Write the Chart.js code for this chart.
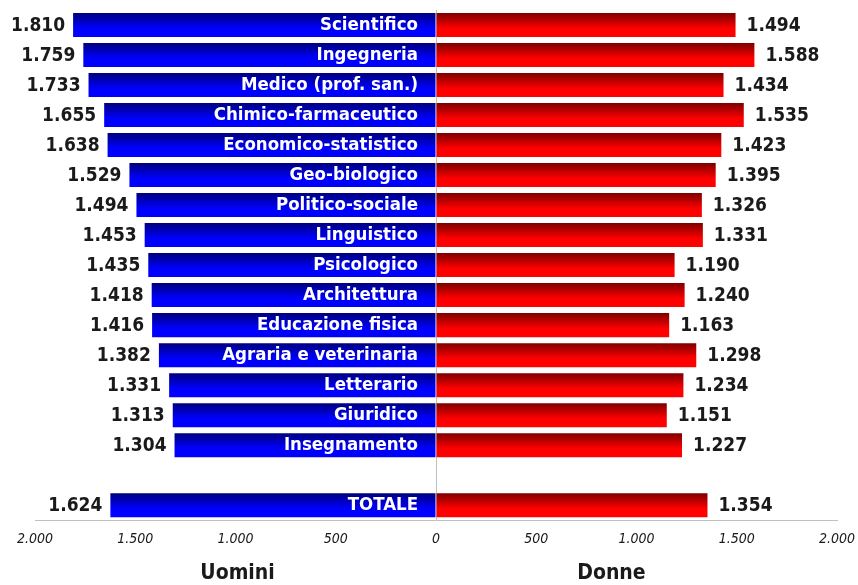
<!DOCTYPE html>
<html>
<head>
<meta charset="utf-8">
<script src="https://cdn.jsdelivr.net/npm/chart.js@4/dist/chart.umd.min.js"></script>
<style>
  html, body { margin: 0; padding: 0; background: #ffffff; }
  #wrap { width: 858px; height: 585px; }
</style>
</head>
<body>
<div id="wrap"><canvas id="c" width="858" height="585"></canvas></div>
<script>
const categories = ["Scientifico", "Ingegneria", "Medico (prof. san.)", "Chimico-farmaceutico", "Economico-statistico", "Geo-biologico", "Politico-sociale", "Linguistico", "Psicologico", "Architettura", "Educazione fisica", "Agraria e veterinaria", "Letterario", "Giuridico", "Insegnamento", "", "TOTALE"];
const uomini = [1810, 1759, 1733, 1655, 1638, 1529, 1494, 1453, 1435, 1418, 1416, 1382, 1331, 1313, 1304, null, 1624];
const donne = [1494, 1588, 1434, 1535, 1423, 1395, 1326, 1331, 1190, 1240, 1163, 1298, 1234, 1151, 1227, null, 1354];
const seriesNames = ["Uomini", "Donne"];
const xMin = -2000, xMax = 2000, xStep = 500;

const FONT = "'DejaVu Sans Condensed', 'DejaVu Sans', sans-serif";

function fmt(n) {
  return String(Math.abs(Math.round(n))).replace(/\B(?=(\d{3})+(?!\d))/g, '.');
}

function barGradient(ctx, dark, bright) {
  const chart = ctx.chart;
  const y = chart.scales && chart.scales.y;
  if (!y || !chart.chartArea || y.bottom === undefined) return bright;
  const center = y.getPixelForValue(ctx.dataIndex);
  const row = (y.bottom - y.top) / categories.length;
  const h = row * 0.8;
  const g = chart.ctx.createLinearGradient(0, center - h / 2, 0, center + h / 2);
  g.addColorStop(0, dark);
  g.addColorStop(0.65, bright);
  g.addColorStop(1, bright);
  return g;
}

const labelPlugin = {
  id: 'labels',
  afterDatasetsDraw(chart) {
    const ctx = chart.ctx;
    const xs = chart.scales.x;
    const zero = xs.getPixelForValue(0);
    const m0 = chart.getDatasetMeta(0);
    const m1 = chart.getDatasetMeta(1);
    ctx.save();
    ctx.textBaseline = 'middle';
    categories.forEach((cat, i) => {
      const e0 = m0.data[i];
      const e1 = m1.data[i];
      if (uomini[i] != null && e0) {
        ctx.font = "bold 19px " + FONT;
        ctx.fillStyle = '#1a1a1a';
        ctx.textAlign = 'right';
        ctx.fillText(fmt(uomini[i]), e0.x - 8, e0.y + 1);
        ctx.font = "bold 18.5px " + FONT;
        ctx.fillStyle = '#ffffff';
        ctx.fillText(cat, zero - 18, e0.y);
      }
      if (donne[i] != null && e1) {
        ctx.font = "bold 19px " + FONT;
        ctx.fillStyle = '#1a1a1a';
        ctx.textAlign = 'left';
        ctx.fillText(fmt(donne[i]), e1.x + 11, e1.y + 1);
      }
    });
    ctx.restore();
  },
  afterDraw(chart) {
    const ctx = chart.ctx;
    const xs = chart.scales.x;
    ctx.save();
    ctx.font = "bold 21px " + FONT;
    ctx.fillStyle = '#1a1a1a';
    ctx.textAlign = 'center';
    ctx.textBaseline = 'middle';
    ctx.fillText(seriesNames[0], xs.getPixelForValue(-990), 574);
    ctx.fillText(seriesNames[1], xs.getPixelForValue(875), 574);
    ctx.restore();
  }
};

new Chart(document.getElementById('c'), {
  type: 'bar',
  data: {
    labels: categories,
    datasets: [
      {
        label: seriesNames[0],
        data: uomini.map(v => v == null ? null : -v),
        backgroundColor: (ctx) => barGradient(ctx, '#00007c', '#0000ff'),
        borderWidth: 0,
        barPercentage: 0.8,
        categoryPercentage: 1.0
      },
      {
        label: seriesNames[1],
        data: donne,
        backgroundColor: (ctx) => barGradient(ctx, '#7c0000', '#ff0000'),
        borderWidth: 0,
        barPercentage: 0.8,
        categoryPercentage: 1.0
      }
    ]
  },
  options: {
    indexAxis: 'y',
    responsive: false,
    animation: false,
    devicePixelRatio: 1,
    layout: { padding: { left: 35, right: 21, top: 10, bottom: 37 } },
    plugins: {
      legend: { display: false },
      tooltip: { enabled: false }
    },
    scales: {
      x: {
        stacked: true,
        min: xMin,
        max: xMax,
        ticks: {
          stepSize: xStep,
          padding: 0,
          color: '#1a1a1a',
          font: { family: FONT, size: 14, style: 'italic' },
          maxRotation: 0,
          callback: (v) => fmt(v)
        },
        grid: {
          drawTicks: true,
          tickLength: 11,
          tickColor: 'rgba(0,0,0,0)',
          color: (ctx) => (ctx.tick && ctx.tick.value === 0) ? '#c0c0c0' : 'rgba(0,0,0,0)',
          lineWidth: 1
        },
        border: { display: true, color: '#c0c0c0', width: 1 }
      },
      y: {
        stacked: true,
        display: false
      }
    }
  },
  plugins: [labelPlugin]
});
</script>
</body>
</html>
